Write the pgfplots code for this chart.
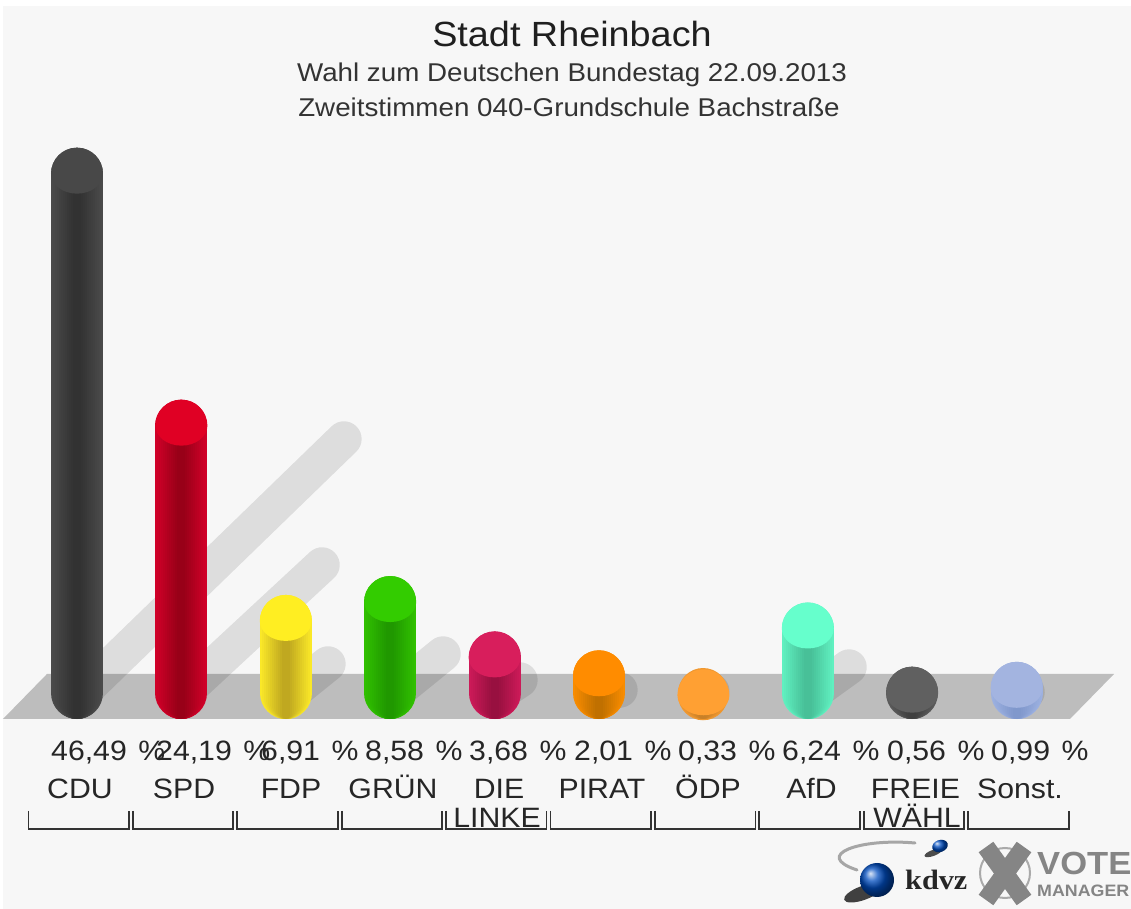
\documentclass[border=0pt]{standalone}
\usepackage{pgfplots}
\pgfplotsset{compat=1.18}
\usepackage{fontspec}
\setmainfont{Liberation Sans}
\newfontfamily\serifb{Liberation Serif}
\pgfdeclareplotmark{cylface}{%
  \pgfpathmoveto{\pgfpoint{-26pt}{-26pt}}%
  \pgfpatharc{180}{0}{26pt}%
  \pgfpatharc{0}{-180}{26pt and 20pt}%
  \pgfpathclose
  \pgfusepathqfill
}
\newcommand{\T}[2]{\scalebox{1.08}[1]{\fontsize{#1pt}{#1pt}\selectfont #2}}
\pgfplotsset{cylbody/.style={forget plot,no markers,yshift=-26pt,line cap=round}}
% i, value, edge colour, core colour, top colour, outer width
\newcommand{\cyl}[6]{%
  \addplot[cylbody,line width=#6pt,draw=#3] coordinates {(#1,#2)(#1,0.53)};
  \addplot[cylbody,line width=48pt,draw=#4!9!#3] coordinates {(#1,#2)(#1,0.354)};
  \addplot[cylbody,line width=44pt,draw=#4!18!#3] coordinates {(#1,#2)(#1,0.177)};
  \addplot[cylbody,line width=40pt,draw=#4!27!#3] coordinates {(#1,#2)(#1,0)};
  \addplot[cylbody,line width=36pt,draw=#4!36!#3] coordinates {(#1,#2)(#1,-0.177)};
  \addplot[cylbody,line width=32pt,draw=#4!45!#3] coordinates {(#1,#2)(#1,-0.354)};
  \addplot[cylbody,line width=28pt,draw=#4!55!#3] coordinates {(#1,#2)(#1,-0.531)};
  \addplot[cylbody,line width=24pt,draw=#4!64!#3] coordinates {(#1,#2)(#1,-0.708)};
  \addplot[cylbody,line width=20pt,draw=#4!73!#3] coordinates {(#1,#2)(#1,-0.885)};
  \addplot[cylbody,line width=16pt,draw=#4!82!#3] coordinates {(#1,#2)(#1,-1.062)};
  \addplot[cylbody,line width=12pt,draw=#4!91!#3] coordinates {(#1,#2)(#1,-1.239)};
  \addplot[cylbody,line width=8pt,draw=#4] coordinates {(#1,#2)(#1,-1.416)};
  \addplot[forget plot,only marks,mark=cylface,mark options={fill=#5,draw=none}] coordinates {(#1,#2)};
}
\newcommand{\shad}[4]{\addplot[forget plot,no markers,line width=35.4pt,line cap=round,draw=black,opacity=0.1] coordinates {(#1,#2)(#3,#4)};}
\definecolor{bg}{HTML}{F7F7F7}
\definecolor{cduE}{HTML}{4A4A4A}\definecolor{cduC}{HTML}{323232}\definecolor{cduT}{HTML}{484848}
\definecolor{spdE}{HTML}{D00028}\definecolor{spdC}{HTML}{980018}\definecolor{spdT}{HTML}{E00024}
\definecolor{fdpE}{HTML}{FAE828}\definecolor{fdpC}{HTML}{C0A820}\definecolor{fdpT}{HTML}{FFEE22}
\definecolor{grnE}{HTML}{30C000}\definecolor{grnC}{HTML}{209800}\definecolor{grnT}{HTML}{33CC00}
\definecolor{lnkE}{HTML}{CC1A58}\definecolor{lnkC}{HTML}{981040}\definecolor{lnkT}{HTML}{D81E5C}
\definecolor{prtE}{HTML}{F88C00}\definecolor{prtC}{HTML}{C07000}\definecolor{prtT}{HTML}{FF8C00}
\definecolor{odpE}{HTML}{F09830}\definecolor{odpC}{HTML}{C88028}\definecolor{odpT}{HTML}{FFA033}
\definecolor{afdE}{HTML}{60F0C0}\definecolor{afdC}{HTML}{48C098}\definecolor{afdT}{HTML}{66FFCC}
\definecolor{frwE}{HTML}{5A5A5A}\definecolor{frwC}{HTML}{404040}\definecolor{frwT}{HTML}{606060}
\definecolor{sonE}{HTML}{9CB0E0}\definecolor{sonC}{HTML}{8098CC}\definecolor{sonT}{HTML}{A3B4E0}
\definecolor{logo}{HTML}{858585}
\begin{document}
\begin{tikzpicture}[x=1pt,y=1pt]
\useasboundingbox (0,0) rectangle (1131,909);
\fill[white] (0,0) rectangle (1131,909);
\fill[bg] (3,0) rectangle (1131,903);
\begin{axis}[
  at={(0,0)},anchor=south west,
  scale only axis,width=1131pt,height=909pt,
  xmin=-0.7375,xmax=10.0958,ymin=-20.885,ymax=59.558,
  hide axis,clip=false,unbounded coords=jump]
% floor
\addplot[forget plot,fill=black!26,draw=none] coordinates {(-0.7088,-4.071)(9.511,-4.071)(9.933,-0.088)(-0.2874,-0.088)} -- cycle;
% shadows
\shad{0.0479}{-1.77}{2.557}{20.71}
\shad{1.025}{-1.77}{2.347}{9.56}
\shad{2.059}{-1.77}{2.404}{0.80}
\shad{3.046}{-1.77}{3.506}{1.68}
\shad{4.052}{-1.77}{4.243}{-0.62}
\shad{5.057}{-1.77}{5.201}{-1.50}
\shad{6.046}{-1.77}{6.08}{-1.6}
\shad{7.05}{-1.77}{7.395}{0.53}
\shad{8.046}{-1.77}{8.075}{-1.6}
\shad{9.05}{-1.77}{9.10}{-1.68}
% bars
\cyl{0}{46.49}{cduE}{cduC}{cduT}{52}
\cyl{1}{24.19}{spdE}{spdC}{spdT}{52}
\cyl{2}{6.91}{fdpE}{fdpC}{fdpT}{52}
\cyl{3}{8.58}{grnE}{grnC}{grnT}{52}
\cyl{4}{3.68}{lnkE}{lnkC}{lnkT}{52}
\cyl{5}{2.01}{prtE}{prtC}{prtT}{52}
\cyl{6}{0.33}{odpE}{odpC}{odpT}{50}
\cyl{7}{6.24}{afdE}{afdC}{afdT}{52}
\cyl{8}{0.56}{frwE}{frwC}{frwT}{52}
\cyl{9}{0.99}{sonE}{sonC}{sonT}{52}
% brackets
\addplot[forget plot,draw=black!80,line width=1.8pt] table[row sep=\\] {
x y\\
-0.465 -12.21\\ -0.465 -13.81\\ 0.498 -13.81\\ 0.498 -12.21\\
nan nan\\
0.535 -12.21\\ 0.535 -13.81\\ 1.498 -13.81\\ 1.498 -12.21\\
nan nan\\
1.535 -12.21\\ 1.535 -13.81\\ 2.498 -13.81\\ 2.498 -12.21\\
nan nan\\
2.535 -12.21\\ 2.535 -13.81\\ 3.498 -13.81\\ 3.498 -12.21\\
nan nan\\
3.535 -12.21\\ 3.535 -13.81\\ 4.498 -13.81\\ 4.498 -12.21\\
nan nan\\
4.535 -12.21\\ 4.535 -13.81\\ 5.498 -13.81\\ 5.498 -12.21\\
nan nan\\
5.535 -12.21\\ 5.535 -13.81\\ 6.498 -13.81\\ 6.498 -12.21\\
nan nan\\
6.535 -12.21\\ 6.535 -13.81\\ 7.498 -13.81\\ 7.498 -12.21\\
nan nan\\
7.535 -12.21\\ 7.535 -13.81\\ 8.498 -13.81\\ 8.498 -12.21\\
nan nan\\
8.535 -12.21\\ 8.535 -13.81\\ 9.498 -13.81\\ 9.498 -12.21\\
};
\end{axis}
% titles
\node[anchor=base,inner sep=0,text=black!88] at (572,909-47) {\T{35}{Stadt Rheinbach}};
\node[anchor=base,inner sep=0,text=black!80] at (572,909-82) {\T{25.7}{Wahl zum Deutschen Bundestag 22.09.2013}};
\node[anchor=base,inner sep=0,text=black!80] at (569,909-117) {\T{25.7}{Zweitstimmen 040-Grundschule Bachstraße}};
% value labels
\foreach \x/\t in {51/{46,49},156/{24,19},261/{6,91},365/{8,58},469/{3,68},574/{2,01},678/{0,33},782/{6,24},887/{0,56},991/{0,99}}{
  \node[anchor=base west,inner sep=0,text=black!85] at (\x,909-761) {\T{28}{\t\ \hspace{3pt}\%}};
}
% party labels
\foreach \x/\t in {80/CDU,184/SPD,291/FDP,393/GRÜN,499/DIE,602/PIRAT,708/ÖDP,811.5/AfD,915.5/FREIE,1020/Sonst.}{
  \node[anchor=base,inner sep=0,text=black!85] at (\x,909-799) {\T{28}{\t}};
}
\node[anchor=base,inner sep=0,text=black!85] at (497,909-828) {\T{28}{LINKE}};
\node[anchor=base,inner sep=0,text=black!85] at (917,909-828) {\T{28}{WÄHL}};
% kdvz logo
\draw[black!35,line width=3pt,line cap=round] (915,909-843) .. controls (860,909-838) and (812,909-855) .. (857,909-870);
\fill[black!75,rotate around={20:(863,909-893)}] (863,909-893) ellipse (20 and 7);
\shade[ball color=blue!60!cyan!75!black] (877,909-880) circle (17);
\fill[black!70,rotate around={20:(933,909-853)}] (933,909-853) ellipse (9 and 3);
\shade[ball color=blue!60!cyan!75!black,rotate around={20:(940,909-846)}] (940,909-846) ellipse (8 and 6);
\node[anchor=base west,inner sep=0,text=black!85] at (905,909-890) {\scalebox{1.08}[1]{\fontsize{28pt}{28pt}\selectfont\serifb\bfseries kdvz}};
% VOTE MANAGER logo
\draw[logo!70,line width=2pt] (1005,909-873) circle (25);
\draw[logo,line width=18pt] (986,909-847) -- (1024,909-900);
\draw[logo,line width=18pt] (1024,909-847) -- (986,909-900);
\node[anchor=base west,inner sep=0,text=logo] at (1037,909-875) {\T{32}{\bfseries VOTE}};
\node[anchor=base west,inner sep=0,text=logo] at (1037,909-897) {\T{16.5}{\bfseries MANAGER}};
\end{tikzpicture}
\end{document}
